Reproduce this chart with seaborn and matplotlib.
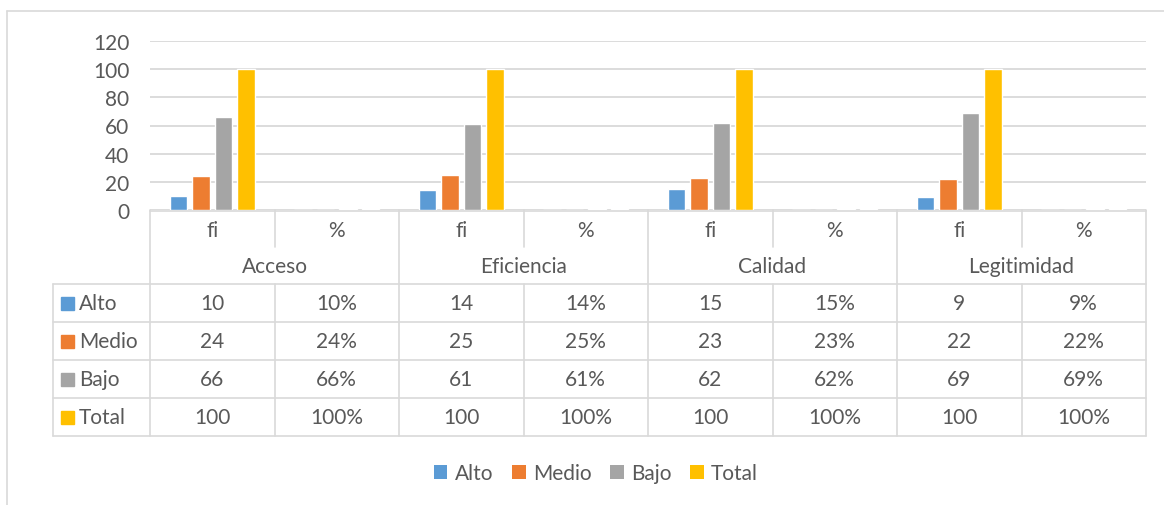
import pandas as pd
import matplotlib.pyplot as plt
import seaborn as sns
from matplotlib.patches import Patch, Rectangle
from matplotlib.lines import Line2D

# Datos del gráfico
dimensiones = ["Acceso", "Eficiencia", "Calidad", "Legitimidad"]
sub_cols = ["fi", "%"]
niveles = ["Alto", "Medio", "Bajo", "Total"]
alto_fi = [10, 14, 15, 9]
medio_fi = [24, 25, 23, 22]
bajo_fi = [66, 61, 62, 69]
total_fi = [100, 100, 100, 100]
alto_pct = [0.10, 0.14, 0.15, 0.09]
medio_pct = [0.24, 0.25, 0.23, 0.22]
bajo_pct = [0.66, 0.61, 0.62, 0.69]
total_pct = [1.00, 1.00, 1.00, 1.00]
colores = ["#5B9BD5", "#ED7D31", "#A5A5A5", "#FFC000"]
y_ticks = [0, 20, 40, 60, 80, 100, 120]

TXT = "#595959"
GRID = "#D9D9D9"
FS = 15

fi_vals = [alto_fi, medio_fi, bajo_fi, total_fi]
pct_vals = [alto_pct, medio_pct, bajo_pct, total_pct]

rows = []
columnas = []
for i, d in enumerate(dimensiones):
    for s in sub_cols:
        col = f"{d}|{s}"
        columnas.append(col)
        for j, n in enumerate(niveles):
            v = fi_vals[j][i] if s == "fi" else pct_vals[j][i]
            rows.append({"col": col, "nivel": n, "valor": v})
df = pd.DataFrame(rows)

sns.set_theme(style="white")
plt.rcParams["font.family"] = ["Lato", "DejaVu Sans"]

W, H = 1164, 506
fig = plt.figure(figsize=(W / 100, H / 100), dpi=100)
ax_left, ax_right, ax_top, ax_bot = 150, 1146, 42, 211
ax = fig.add_axes([ax_left / W, 1 - ax_bot / H, (ax_right - ax_left) / W, (ax_bot - ax_top) / H])

sns.barplot(data=df, x="col", y="valor", hue="nivel", order=columnas, hue_order=niveles,
            palette=colores, width=0.72, gap=0.22, saturation=1, errorbar=None,
            legend=False, ax=ax, zorder=3)

ax.set_xlim(-0.5, len(columnas) - 0.5)
ax.set_ylim(0, 120)
ax.set_yticks(y_ticks)
ax.set_xticks([])
ax.set_xlabel("")
ax.set_ylabel("")
sns.despine(ax=ax, left=True, bottom=True)
ax.yaxis.grid(True, color=GRID, lw=1.3)
ax.set_axisbelow(True)
ax.tick_params(axis="y", length=0, pad=15, labelsize=FS, labelcolor=TXT)

# Tabla de datos debajo del gráfico
col_px = (ax_right - ax_left) / len(columnas)


def yf(p):
    return (ax_bot - p) / (ax_bot - ax_top)


x_lab = -0.5 - (ax_left - 53) / col_px
tr = ax.get_xaxis_transform()
lw = 1.2
row_y = [285, 323, 361, 399, 437]


def line(x0, x1, y0, y1, z=2):
    ax.add_line(Line2D([x0, x1], [yf(y0), yf(y1)], color=GRID, lw=lw,
                       transform=tr, clip_on=False, zorder=z))


line(-0.5, 7.5, 211.5, 211.5, z=1)
for y in row_y:
    line(x_lab, 7.5, y, y)
line(x_lab, x_lab, 285, 437)
for k in range(0, 9, 2):
    line(k - 0.5, k - 0.5, 211, 437)
for k in range(1, 9, 2):
    line(k - 0.5, k - 0.5, 211, 248)
    line(k - 0.5, k - 0.5, 285, 437)

for k, col in enumerate(columnas):
    d, s = col.split("|")
    ax.text(k, yf(231), s, ha="center", va="center", color=TXT, fontsize=FS, transform=tr)
for i, d in enumerate(dimensiones):
    ax.text(2 * i + 0.5, yf(267), d, ha="center", va="center", color=TXT, fontsize=FS, transform=tr)

for j, n in enumerate(niveles):
    yc = (row_y[j] + row_y[j + 1]) / 2
    ax.add_patch(Rectangle((61 / W, 1 - (yc + 7) / H), 13 / W, 13 / H, color=colores[j],
                           transform=fig.transFigure, clip_on=False))
    fig.text(79 / W, 1 - yc / H, n, ha="left", va="center", color=TXT, fontsize=FS)
    for i in range(len(dimensiones)):
        ax.text(2 * i, yf(yc), f"{fi_vals[j][i]}", ha="center", va="center",
                color=TXT, fontsize=FS, transform=tr)
        ax.text(2 * i + 1, yf(yc), f"{round(pct_vals[j][i] * 100)}%", ha="center", va="center",
                color=TXT, fontsize=FS, transform=tr)

# Marco del área del gráfico
fig.add_artist(Line2D([7 / W, 7 / W], [0, 1 - 12 / H], color=GRID, lw=1.2, transform=fig.transFigure))
fig.add_artist(Line2D([7 / W, 1], [1 - 12 / H, 1 - 12 / H], color=GRID, lw=1.2, transform=fig.transFigure))

# Leyenda
handles = [Patch(facecolor=c, edgecolor="none", label=n) for c, n in zip(colores, niveles)]
leg = fig.legend(handles=handles, loc="center", bbox_to_anchor=(596 / W, 1 - 474 / H),
                 ncol=4, frameon=False, fontsize=FS, handlelength=0.65, handleheight=0.65,
                 handletextpad=0.35, columnspacing=0.9)
for t in leg.get_texts():
    t.set_color(TXT)

fig.savefig("out.png", dpi=100, facecolor="white")
